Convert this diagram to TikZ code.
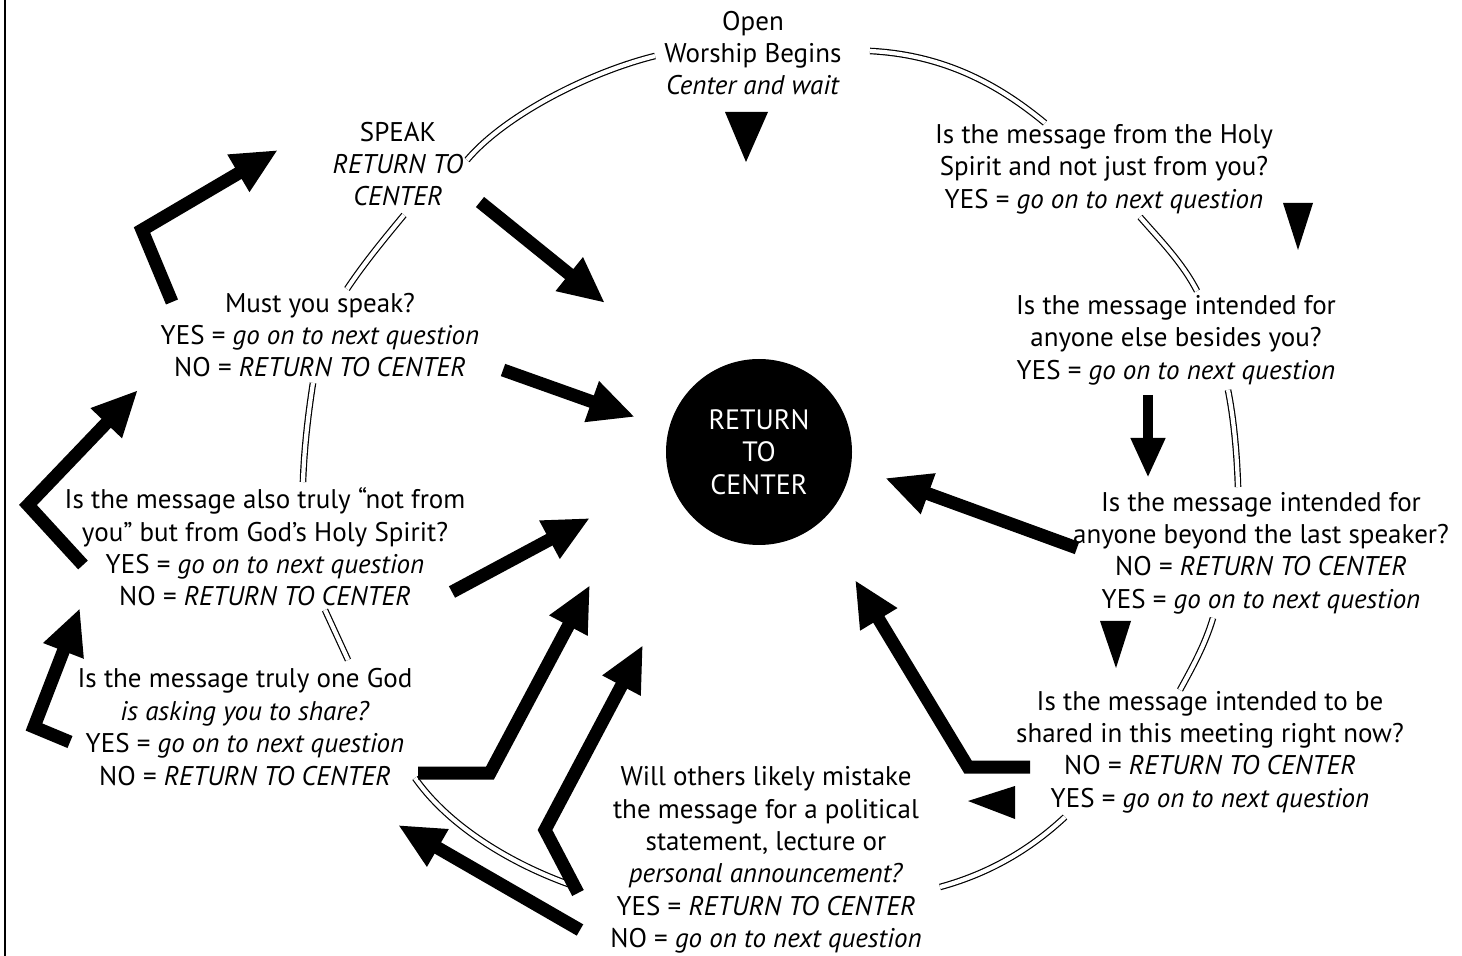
\documentclass[tikz,border=0pt]{standalone}
\usepackage{fontspec}
\setmainfont{PT Sans}
\usetikzlibrary{arrows.meta}
\begin{document}
\begin{tikzpicture}[x=0.5pt,y=-0.5pt,
  txt/.style={align=center, inner sep=0pt, font=\fontsize{13.5}{16.2}\selectfont},
  ring/.style={double, double distance=2.1pt, line width=0.6pt},
  big/.style={line width=6.5pt, line join=miter, -{Triangle[length=23pt,width=20pt]}},
  tri/.style={fill=black}
]
\useasboundingbox (0,0) rectangle (1462,956);
\draw[line width=1pt] (5,0) -- (5,956);

% hub
\node[circle, fill=black, minimum size=93pt, inner sep=0pt] (hub) at (759,452) {};
\node[txt, text=white, font=\fontsize{14}{16.2}\selectfont] (hubtxt) at (759,452) {RETURN\\TO\\CENTER};

% text blocks
\node[txt] (top) at (753,53) {Open\\Worship Begins\\\textit{Center and wait}};
\node[txt] (speak) at (398,164) {SPEAK\\\textit{RETURN TO}\\\textit{CENTER}};
\node[txt] (must) at (320,335) {Must you speak?\\YES = \textit{go on to next question}\\NO = \textit{RETURN TO CENTER}};
\node[txt] (also) at (265,547) {Is the message also truly “not from\\you” but from God’s Holy Spirit?\\YES = \textit{go on to next question}\\NO = \textit{RETURN TO CENTER}};
\node[txt] (god) at (245,727) {Is the message truly one God\\\textit{is asking you to share?}\\YES = \textit{go on to next question}\\NO = \textit{RETURN TO CENTER}};
\node[txt] (bottom) at (766,860) {Will others likely mistake\\the message for a political\\statement, lecture or\\\textit{personal announcement?}\\YES = \textit{RETURN TO CENTER}\\NO = \textit{go on to next question}};
\node[txt] (r1) at (1104,169) {Is the message from the Holy\\Spirit and not just from you?\\YES = \textit{go on to next question}};
\node[txt] (r2) at (1176,340) {Is the message intended for\\anyone else besides you?\\YES = \textit{go on to next question}};
\node[txt] (r3) at (1261,553) {Is the message intended for\\anyone beyond the last speaker?\\NO = \textit{RETURN TO CENTER}\\YES = \textit{go on to next question}};
\node[txt] (r4) at (1210,752) {Is the message intended to be\\shared in this meeting right now?\\NO = \textit{RETURN TO CENTER}\\YES = \textit{go on to next question}};

% ring connectors (double lines)
\coordinate (d1a) at (870,51); \coordinate (d1b) at (1045,123);
\draw[ring] (d1a) .. controls (950,55) and (1005,90) .. (d1b);
\coordinate (d2a) at (655,56); \coordinate (d2b) at (467,160);
\draw[ring] (d2a) .. controls (590,72) and (505,115) .. (d2b);
\coordinate (d3a) at (404,215); \coordinate (d3b) at (347,289);
\draw[ring] (d3a) .. controls (385,238) and (365,262) .. (d3b);
\coordinate (d4a) at (313,383); \coordinate (d4b) at (303,482);
\draw[ring] (d4a) .. controls (308,415) and (304,450) .. (d4b);
\coordinate (d5a) at (325,610); \coordinate (d5b) at (348,660);
\draw[ring] (d5a) -- (d5b);
\coordinate (d6a) at (415,778); \coordinate (d6b) at (580,888);
\draw[ring] (d6a) .. controls (455,835) and (530,872) .. (d6b);
\coordinate (d7a) at (940,887); \coordinate (d7b) at (1065,817);
\draw[ring] (d7a) .. controls (995,872) and (1035,845) .. (d7b);
\coordinate (d8a) at (1213,618); \coordinate (d8b) at (1180,690);
\draw[ring] (d8a) .. controls (1205,645) and (1192,668) .. (d8b);
\coordinate (d9a) at (1228,390); \coordinate (d9b) at (1238,487);
\draw[ring] (d9a) .. controls (1234,420) and (1237,455) .. (d9b);
\coordinate (d10a) at (1140,217); \coordinate (d10b) at (1197,291);
\draw[ring] (d10a) .. controls (1160,240) and (1182,262) .. (d10b);

% thick arrows
\coordinate (a1s) at (172,302); \coordinate (a1c) at (142,230); \coordinate (a1t) at (278,150);
\draw[big] (a1s) -- (a1c) -- (a1t);
\coordinate (a2s) at (480,202); \coordinate (a2t) at (605,303);
\draw[big] (a2s) -- (a2t);
\coordinate (a3s) at (503,370); \coordinate (a3t) at (635,417);
\draw[big] (a3s) -- (a3t);
\coordinate (a4s) at (83,565); \coordinate (a4c) at (28,505); \coordinate (a4t) at (138,390);
\draw[big] (a4s) -- (a4c) -- (a4t);
\coordinate (a5s) at (70,742); \coordinate (a5c) at (34,727); \coordinate (a5t) at (80,608);
\draw[big] (a5s) -- (a5c) -- (a5t);
\coordinate (a6s) at (452,592); \coordinate (a6t) at (590,518);
\draw[big] (a6s) -- (a6t);
\coordinate (a7s) at (418,773); \coordinate (a7c) at (490,773); \coordinate (a7t) at (590,585);
\draw[big] (a7s) -- (a7c) -- (a7t);
\coordinate (a8s) at (578,893); \coordinate (a8c) at (545,830); \coordinate (a8t) at (643,645);
\draw[big] (a8s) -- (a8c) -- (a8t);
\coordinate (a9s) at (580,930); \coordinate (a9t) at (398,825);
\draw[big] (a9s) -- (a9t);
\coordinate (a10s) at (1030,767); \coordinate (a10c) at (968,767); \coordinate (a10t) at (855,580);
\draw[big] (a10s) -- (a10c) -- (a10t);
\coordinate (a11s) at (1077,548); \coordinate (a11t) at (885,478);
\draw[big] (a11s) -- (a11t);

% block arrow
\coordinate (b1s) at (1148,395); \coordinate (b1t) at (1148,478);
\draw[line width=5pt, -{Triangle[length=20pt,width=16pt]}] (b1s) -- (b1t);

% solid triangles
\fill[tri] (725,112) -- (768,112) -- (746,162) -- cycle;
\fill[tri] (1283,203) -- (1313,203) -- (1298,250) -- cycle;
\fill[tri] (1100,621) -- (1131,621) -- (1116,668) -- cycle;
\fill[tri] (1015,786) -- (1015,819) -- (968,801) -- cycle;
\end{tikzpicture}
\end{document}
